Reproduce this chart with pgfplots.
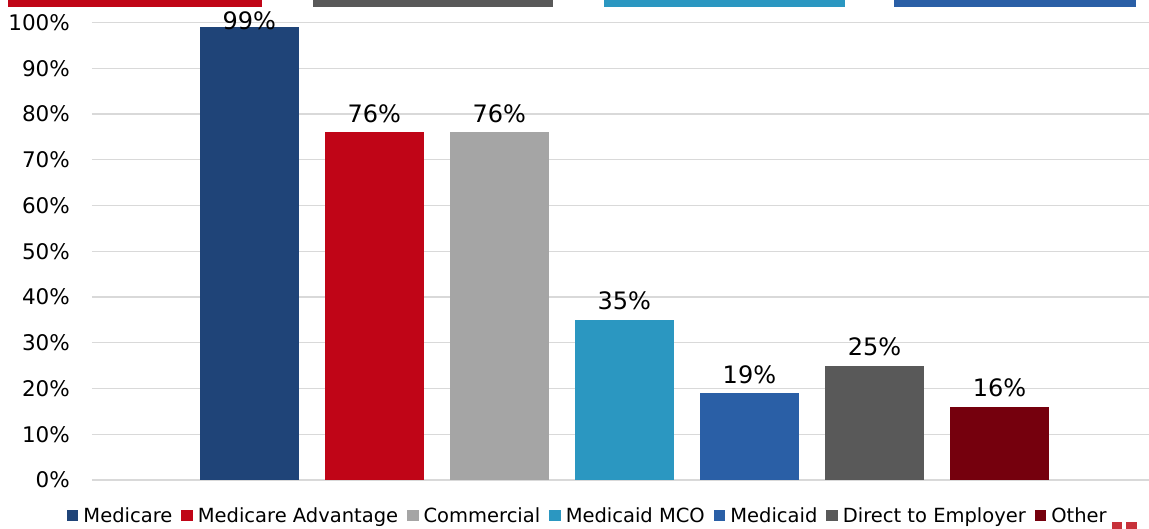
\documentclass[border=0pt]{standalone}
\usepackage{fontspec}
\setmainfont{DejaVu Sans}
\usepackage{pgfplots}
\pgfplotsset{compat=1.18}

\definecolor{cMed}{HTML}{1F4478}
\definecolor{cMA}{HTML}{C00517}
\definecolor{cCom}{HTML}{A5A5A5}
\definecolor{cMCO}{HTML}{2B97C1}
\definecolor{cMcd}{HTML}{2A5FA6}
\definecolor{cDtE}{HTML}{595959}
\definecolor{cOth}{HTML}{75000D}
\definecolor{cGrid}{HTML}{D9D9D9}
\definecolor{cLogo}{HTML}{C8313A}

\begin{document}
\begin{tikzpicture}
\useasboundingbox (-92pt,-49pt) rectangle (1057pt,480pt);
\begin{axis}[
    at={(0,0)}, anchor=south west,
    scale only axis,
    width=1057pt, height=457.5pt,
    ybar, bar width=98.5pt, bar shift=0pt,
    xmin=-1.258, xmax=7.196,
    ymin=0, ymax=100,
    xtick=\empty,
    ytick={0,10,...,100},
    yticklabel={\pgfmathprintnumber{\tick}\%},
    /pgf/number format/assume math mode=true,
    yticklabel style={font=\fontsize{21.5}{24}\selectfont, inner sep=0pt, xshift=-22pt},
    major tick length=0pt,
    ymajorgrids,
    grid style={cGrid, line width=1.2pt},
    axis x line=none,
    axis y line*=left,
    y axis line style={draw=none},
    clip=false,
    nodes near coords={\pgfmathprintnumber{\pgfplotspointmeta}\%},
    every node near coord/.append style={font=\fontsize{24}{28}\selectfont,
        anchor=base, inner sep=0pt, yshift=10pt},
    legend columns=-1,
    legend style={at={(-0.02365,-0.0776)}, anchor=west, draw=none,
        inner sep=0pt, outer sep=0pt,
        font=\fontsize{19.5}{22}\selectfont,
        nodes={inner sep=0pt},
        /tikz/every even column/.append style={column sep=9pt}},
    legend image code/.code={\fill[#1] (0pt,-5.75pt) rectangle (11.5pt,5.75pt);
        \path (16.5pt,0pt);},
]
\addplot[fill=cMed, draw=none, every node near coord/.append style={yshift=-12pt}]
    coordinates {(0,99)};
\addplot[fill=cMA, draw=none] coordinates {(1,76)};
\addplot[fill=cCom, draw=none] coordinates {(2,76)};
\addplot[fill=cMCO, draw=none] coordinates {(3,35)};
\addplot[fill=cMcd, draw=none] coordinates {(4,19)};
\addplot[fill=cDtE, draw=none] coordinates {(5,25)};
\addplot[fill=cOth, draw=none] coordinates {(6,16)};
\legend{Medicare, Medicare Advantage, Commercial, Medicaid MCO, Medicaid, Direct to Employer, Other}
\end{axis}
% decorative strips and logo fragment of the slide
\fill[cMA] (-84pt,473pt) rectangle (170pt,480pt);
\fill[cDtE] (221pt,473pt) rectangle (461pt,480pt);
\fill[cMCO] (512pt,473pt) rectangle (753pt,480pt);
\fill[cMcd] (802pt,473pt) rectangle (1044pt,480pt);
\fill[cLogo] (1020pt,-49pt) rectangle (1030pt,-42pt);
\fill[cLogo] (1034pt,-49pt) rectangle (1045pt,-42pt);
\end{tikzpicture}
\end{document}
